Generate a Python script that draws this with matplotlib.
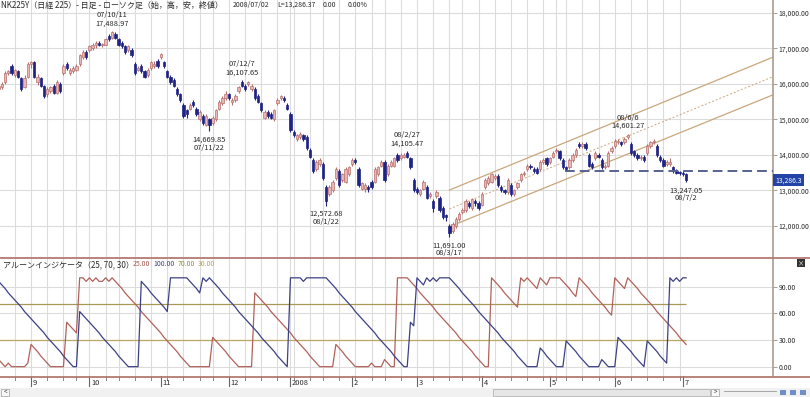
import numpy as np
import pandas as pd
from matplotlib import pyplot as plt
from matplotlib.lines import Line2D
from matplotlib.patches import Rectangle
from matplotlib.ticker import FuncFormatter

plt.rcParams['font.family'] = ['Noto Sans CJK JP', 'DejaVu Sans']

W, H = 810, 397  # output size, pixels

# ---- data: Nikkei 225 daily candles, 2007/08/20 - 2008/07/02 ----
market_holidays = ['2007-09-17', '2007-09-24', '2007-10-08', '2007-11-23',
                   '2007-12-24', '2007-12-31', '2008-01-01', '2008-01-02',
                   '2008-01-03', '2008-01-14', '2008-02-11', '2008-03-20',
                   '2008-04-29', '2008-05-05', '2008-05-06']

opens = [
    15850, 15900, 16050, 16300, 16500, 16250, 16350, 16150, 15900, 16200,
    16550, 16600, 16050, 16150, 15950, 15700, 15800, 15950, 15750, 16000,
    16300, 16550, 16300, 16350, 16400, 16550, 16750, 16900, 16950, 17000,
    17080, 17150, 17080, 17100, 17350, 17300, 17400, 17250, 17150, 17050,
    16950, 16950, 16550, 16400, 16500, 16350, 16250, 16450, 16500, 16650,
    16750, 16600, 16350, 16200, 16100, 15850, 15700, 15400, 15250, 15300,
    15500, 15300, 15000, 15100, 14850, 15000, 14900, 15000, 15300, 15450,
    15600, 15700, 15500, 15550, 15800, 16050, 15950, 16000, 15850, 15850,
    15650, 15450, 15050, 15200, 15150, 15000, 15450, 15600, 15600, 15400,
    15150, 14650, 14450, 14500, 14550, 14500, 14150, 13850, 13600, 13750,
    13750, 13100, 12900, 13000, 13350, 13550, 13300, 13250, 13450, 13750,
    13850, 13600, 13050, 13050, 13100, 13250, 13250, 13450, 13700, 13800,
    13450, 13700, 13700, 14000, 13900, 13950, 14050, 13900, 13300, 13050,
    12900, 13050, 13100, 12850, 12700, 12850, 12800, 12500, 12300, 12000,
    11850, 12000, 12200, 12400, 12450, 12650, 12500, 12700, 12650, 12600,
    13100, 13200, 13250, 13350, 13400, 13100, 13000, 12950, 13150, 12900,
    13100, 13300, 13450, 13600, 13700, 13600, 13600, 13600, 13800, 13900,
    13800, 13950, 14100, 14100, 13850, 13650, 13650, 13850, 14000, 14300,
    14250, 14300, 14000, 13750, 13900, 14000, 13850, 13650, 13700, 14100,
    14250, 14350, 14350, 14350, 14500, 14300, 14100, 14000, 13900, 13950,
    14050, 14250, 14350, 14250, 13950, 13850, 13750, 13750, 13650, 13550,
    13500, 13500, 13450,
]
highs = [
    16000, 16050, 16350, 16400, 16550, 16420, 16400, 16200, 16250, 16600,
    16650, 16650, 16280, 16200, 15980, 15900, 15950, 16000, 16100, 16050,
    16550, 16600, 16450, 16500, 16550, 16850, 16950, 16950, 17100, 17150,
    17200, 17200, 17150, 17300, 17400, 17488.97, 17450, 17300, 17200, 17100,
    17100, 17000, 16600, 16500, 16550, 16400, 16450, 16650, 16650, 16700,
    16870, 16650, 16400, 16250, 16150, 15900, 15750, 15450, 15300, 15450,
    15550, 15350, 15250, 15150, 15150, 15050, 15100, 15300, 15550, 15650,
    15800, 15750, 15600, 15700, 15950, 16107.65, 16000, 16080, 16000, 15900,
    15700, 15500, 15250, 15250, 15200, 15300, 15600, 15680, 15650, 15450,
    15200, 14700, 14600, 14650, 14600, 14550, 14200, 13900, 13850, 13900,
    13800, 13150, 13150, 13300, 13650, 13600, 13500, 13650, 13700, 13900,
    13900, 13650, 13250, 13200, 13150, 13300, 13650, 13700, 13850, 13850,
    13750, 13850, 13950, 14050, 14050, 14050, 14105.47, 13950, 13350, 13100,
    13050, 13300, 13150, 12950, 12750, 13000, 12850, 12550, 12350, 12050,
    12100, 12250, 12400, 12500, 12750, 12700, 12800, 12750, 12700, 12950,
    13350, 13400, 13500, 13450, 13450, 13150, 13050, 13350, 13200, 13050,
    13250, 13500, 13550, 13750, 13750, 13650, 13650, 13850, 13900, 13950,
    13950, 14100, 14200, 14150, 13900, 13700, 13900, 14050, 14200, 14350,
    14350, 14350, 14050, 13800, 14100, 14050, 13900, 13750, 14100, 14250,
    14450, 14450, 14400, 14500, 14601.27, 14350, 14150, 14050, 14000, 14000,
    14300, 14400, 14450, 14300, 14000, 13900, 13850, 13900, 13700, 13600,
    13550, 13550, 13480,
]
lows = [
    15800, 15850, 16000, 16250, 16250, 16200, 16150, 15800, 15880, 16150,
    16450, 16150, 15980, 15900, 15600, 15620, 15750, 15700, 15720, 15750,
    16250, 16400, 16250, 16300, 16350, 16500, 16700, 16700, 16900, 16950,
    17020, 17050, 17030, 17080, 17200, 17250, 17250, 17050, 17000, 16850,
    16900, 16750, 16250, 16350, 16300, 16150, 16200, 16400, 16450, 16450,
    16700, 16450, 16150, 16000, 15900, 15650, 15500, 15050, 15050, 15250,
    15350, 15100, 14950, 14850, 14800, 14669.85, 14850, 14950, 15250, 15400,
    15550, 15550, 15400, 15500, 15750, 15900, 15800, 15950, 15800, 15550,
    15450, 15200, 15000, 15050, 15000, 14950, 15400, 15550, 15500, 15250,
    14650, 14500, 14400, 14450, 14400, 14150, 13900, 13500, 13550, 13700,
    13300, 12572.68, 12850, 12950, 13300, 13100, 13250, 13200, 13400, 13700,
    13750, 13100, 13000, 12950, 12950, 13050, 13200, 13400, 13650, 13250,
    13400, 13650, 13650, 13800, 13850, 13900, 13900, 13600, 12950, 12900,
    12850, 13000, 12750, 12800, 12400, 12800, 12400, 12200, 12150, 11691.00,
    11800, 11950, 12150, 12350, 12400, 12500, 12450, 12550, 12450, 12550,
    13050, 13150, 13200, 13300, 13100, 12950, 12900, 12900, 12850, 12850,
    13050, 13250, 13400, 13550, 13600, 13500, 13450, 13550, 13750, 13700,
    13750, 13900, 14050, 13850, 13600, 13550, 13600, 13800, 13950, 14200,
    14200, 14150, 13650, 13600, 13850, 13900, 13600, 13600, 13650, 14050,
    14200, 14300, 14250, 14300, 14450, 14000, 13950, 13850, 13850, 13800,
    14000, 14200, 14300, 13950, 13800, 13650, 13700, 13700, 13500, 13450,
    13430, 13400, 13247.05,
]
closes = [
    15950, 16000, 16300, 16350, 16300, 16380, 16200, 15850, 16150, 16550,
    16600, 16200, 16200, 15950, 15650, 15850, 15900, 15750, 16050, 15800,
    16500, 16450, 16400, 16450, 16500, 16800, 16900, 16750, 17050, 17100,
    17150, 17100, 17120, 17250, 17250, 17450, 17300, 17100, 17050, 16900,
    17050, 16800, 16300, 16450, 16350, 16200, 16400, 16600, 16550, 16500,
    16850, 16500, 16200, 16050, 15950, 15700, 15550, 15100, 15150, 15400,
    15400, 15150, 15200, 14900, 15100, 14850, 15050, 15250, 15500, 15600,
    15700, 15600, 15550, 15650, 15900, 15950, 15850, 16050, 15950, 15600,
    15500, 15250, 15200, 15100, 15050, 15250, 15550, 15650, 15550, 15300,
    14700, 14550, 14550, 14600, 14450, 14200, 13950, 13550, 13800, 13850,
    13350, 12700, 13100, 13250, 13600, 13150, 13450, 13600, 13650, 13850,
    13800, 13150, 13200, 13150, 13050, 13100, 13600, 13650, 13800, 13300,
    13700, 13800, 13900, 13850, 14000, 14000, 13950, 13650, 13000, 12950,
    13000, 13250, 12800, 12900, 12500, 12950, 12450, 12250, 12250, 11800,
    12050, 12200, 12350, 12450, 12700, 12550, 12750, 12650, 12500, 12900,
    13300, 13350, 13450, 13400, 13150, 13000, 12950, 13300, 12900, 13000,
    13200, 13450, 13500, 13700, 13650, 13550, 13500, 13800, 13850, 13750,
    13900, 14050, 14150, 13900, 13650, 13600, 13850, 14000, 14150, 14250,
    14300, 14200, 13700, 13650, 14050, 13950, 13650, 13700, 14050, 14200,
    14400, 14400, 14300, 14450, 14550, 14050, 14000, 13900, 13950, 13850,
    14250, 14350, 14400, 14000, 13850, 13700, 13800, 13800, 13550, 13500,
    13480, 13450, 13286.37,
]

# Aroon indicator (25, 70, 30) as drawn in the lower panel
aroon_up = [
    8, 4, 0, 4, 0, 0, 0, 0, 0, 4,
    25, 21, 17, 12, 8, 4, 0, 0, 0, 0,
    0, 50, 46, 42, 38, 100, 100, 96, 100, 96,
    100, 96, 96, 100, 96, 100, 96, 92, 88, 83,
    79, 75, 71, 67, 62, 58, 54, 50, 46, 42,
    38, 33, 29, 25, 21, 17, 12, 8, 4, 0,
    0, 0, 0, 0, 0, 0, 33, 29, 25, 21,
    17, 12, 8, 4, 0, 0, 0, 0, 0, 83,
    79, 75, 71, 67, 62, 58, 54, 50, 46, 42,
    38, 33, 29, 25, 21, 17, 12, 8, 4, 0,
    0, 0, 0, 0, 25, 21, 17, 12, 8, 4,
    0, 0, 0, 0, 0, 4, 0, 0, 0, 8,
    4, 0, 0, 100, 100, 100, 100, 96, 92, 88,
    83, 79, 75, 71, 67, 62, 58, 54, 50, 46,
    42, 38, 33, 29, 25, 21, 17, 12, 8, 4,
    0, 0, 100, 96, 92, 88, 83, 79, 75, 71,
    67, 100, 96, 100, 96, 92, 88, 100, 96, 92,
    100, 100, 100, 100, 96, 92, 88, 83, 79, 100,
    96, 92, 88, 83, 79, 75, 71, 67, 62, 58,
    100, 96, 92, 88, 100, 96, 92, 88, 83, 79,
    75, 71, 67, 62, 58, 54, 50, 46, 42, 38,
    33, 29, 25,
]
aroon_down = [
    96, 92, 88, 83, 79, 75, 71, 67, 62, 58,
    54, 50, 46, 42, 38, 33, 29, 25, 21, 17,
    12, 8, 4, 0, 0, 62, 58, 54, 50, 46,
    42, 38, 33, 29, 25, 21, 17, 12, 8, 4,
    0, 0, 0, 0, 96, 92, 88, 83, 79, 75,
    71, 67, 62, 100, 100, 100, 100, 100, 100, 96,
    92, 88, 83, 100, 96, 100, 96, 92, 88, 83,
    79, 75, 71, 67, 62, 58, 54, 50, 46, 42,
    38, 33, 29, 25, 21, 17, 12, 8, 4, 0,
    100, 100, 100, 100, 96, 100, 100, 100, 100, 100,
    100, 100, 96, 92, 88, 83, 79, 75, 71, 67,
    62, 58, 54, 50, 46, 42, 38, 33, 29, 25,
    21, 17, 12, 8, 4, 0, 0, 50, 46, 100,
    96, 92, 100, 96, 100, 96, 100, 100, 100, 100,
    96, 92, 88, 83, 79, 75, 71, 67, 62, 58,
    54, 50, 46, 42, 38, 33, 29, 25, 21, 17,
    12, 8, 4, 0, 0, 0, 0, 21, 17, 12,
    8, 4, 0, 0, 0, 29, 25, 21, 17, 12,
    8, 4, 0, 0, 0, 0, 8, 4, 0, 0,
    0, 33, 29, 25, 21, 17, 12, 8, 4, 0,
    29, 25, 21, 17, 12, 8, 4, 100, 96, 100,
    96, 100, 100,
]

# marked highs / lows: (bar, price, date label, kind)
extremes = [
    (35, 17488.97, '07/10/11', 'high'),
    (65, 14669.85, '07/11/22', 'low'),
    (75, 16107.65, '07/12/7', 'high'),
    (101, 12572.68, '08/1/22', 'low'),
    (126, 14105.47, '08/2/27', 'high'),
    (139, 11691.00, '08/3/17', 'low'),
    (194, 14601.27, '08/6/6', 'high'),
    (212, 13247.05, '08/7/2', 'low'),
]

# trend channel (bar range, prices at both ends) and support line
channel_bars = [139, 238.8]
channel_upper = [13010, 16750]
channel_mid = [12480, 16200]
channel_lower = [11980, 15690]
support_level = 13560
support_from = 174.7

price_ticks = [12000, 13000, 14000, 15000, 16000, 17000, 18000]
aroon_ticks = [0, 30, 60, 90]
aroon_levels = [70, 30]

# ---- layout ----
dates = pd.bdate_range('2007-08-20', '2008-07-02')
dates = dates[~dates.isin(pd.to_datetime(market_holidays))]
idx = np.arange(len(dates))
for s in (opens, highs, lows, closes, aroon_up, aroon_down):
    assert len(s) == len(dates), len(s)

UP_FACE, UP_EDGE = '#e8b7b4', '#b8716d'
DN_FACE, DN_EDGE = '#1e2384', '#1e2384'
GRID = '#dcdcdc'
SEP = '#b27b6f'
AXIS = '#a89c90'
TXT = '#2a2a2a'
FS = 5.4       # annotations, month labels
FS_HEAD = 5.8  # japanese header / legend text
FS_NUM = 5.0   # numbers in the header / legend line
FS_TICK = 4.9  # right-hand tick labels

X0, DX = -1.4, 3.243  # pixel position of bar 0 and bar spacing
xlim = ((0 - X0) / DX, (773 - X0) / DX)


def box(x0, y0, x1, y1):
    return [x0 / W, 1 - y1 / H, (x1 - x0) / W, (y1 - y0) / H]


def fx(x):
    return x / W


def fy(y):
    return 1 - y / H


fig = plt.figure(figsize=(W / 100, H / 100), dpi=100)
ax = fig.add_axes(box(0, 0, 773, 257))
ax2 = fig.add_axes(box(0, 258, 773, 376))

iso = dates.isocalendar().week.values
week_starts = idx[np.r_[True, iso[1:] != iso[:-1]]]
months = dates.month.values
month_starts = idx[1:][months[1:] != months[:-1]]

for a in (ax, ax2):
    a.set_xlim(xlim)
    for w in week_starts:
        a.axvline(w, color=GRID, lw=0.8, zorder=0)
    for s in a.spines.values():
        s.set_visible(False)
    a.spines['right'].set_visible(True)
    a.spines['right'].set_color(AXIS)
    a.spines['right'].set_linewidth(1.2)
    a.yaxis.tick_right()
    a.tick_params(axis='x', bottom=False, labelbottom=False)
    a.tick_params(axis='y', length=3, width=0.7, color=AXIS, pad=0.8,
                  labelsize=FS_TICK, labelcolor=TXT)

# ---- price panel ----
ax.set_ylim(11128, 18357)
ax.set_yticks(price_ticks)
ax.yaxis.set_major_formatter(FuncFormatter(lambda v, _: f'{v:,.2f}'))
for p in price_ticks:
    ax.axhline(p, color=GRID, lw=0.8, zorder=0)

o, h, l, c = (np.array(v, dtype=float) for v in (opens, highs, lows, closes))
up = c >= o
for mask, face, edge in ((up, UP_FACE, UP_EDGE), (~up, DN_FACE, DN_EDGE)):
    ax.vlines(idx[mask], l[mask], h[mask], color=edge, lw=0.8, zorder=2)
    ax.bar(idx[mask], np.maximum(np.abs(c - o)[mask], 25),
           bottom=np.minimum(o, c)[mask], width=0.72, color=face,
           edgecolor=edge, lw=0.5, zorder=3)

CH = '#c9a77c'
ax.plot(channel_bars, channel_upper, color=CH, lw=0.9, zorder=1)
ax.plot(channel_bars, channel_lower, color=CH, lw=0.9, zorder=1)
ax.plot(channel_bars, channel_mid, color=CH, lw=0.7, ls=(0, (2, 2)), zorder=1)
ax.hlines(support_level, support_from, xlim[1], color='#56638f', lw=1.4,
          linestyles=(0, (5, 2.6)), zorder=4)

for i, p, d, kind in extremes:
    offs = (7.5, 16) if kind == 'high' else (-8.5, -16.5)
    ax.annotate(f'{p:,.2f}', (i, p), xytext=(0, offs[0]), textcoords='offset pixels',
                ha='center', va='center', fontsize=FS, color=TXT)
    ax.annotate(d, (i, p), xytext=(0, offs[1]), textcoords='offset pixels',
                ha='center', va='center', fontsize=FS, color=TXT)

# last price tag on the axis (truncated like the source display)
ax.text(1.003, closes[-1], f'{closes[-1]:,.2f}'[:-1],
        transform=ax.get_yaxis_transform(), ha='left', va='center',
        fontsize=FS_TICK, color='white', clip_on=False,
        bbox=dict(boxstyle='square,pad=0.3', fc='#2344a6', ec='none'))

# ---- aroon panel ----
ax2.set_ylim(-10.5, 122.3)
ax2.set_yticks(aroon_ticks)
ax2.yaxis.set_major_formatter(FuncFormatter(lambda v, _: f'{v:.2f}'))
for v in aroon_ticks:
    ax2.axhline(v, color=GRID, lw=0.8, zorder=0)
ax2.hlines(aroon_levels[0], idx[0], idx[-1], color='#a89858', lw=0.9, zorder=1)
ax2.hlines(aroon_levels[1], idx[0], idx[-1], color='#b9a963', lw=0.9, zorder=1)
ax2.plot(idx, aroon_up, color='#b0625a', lw=0.9, zorder=2)
ax2.plot(idx, aroon_down, color='#3d4184', lw=0.9, zorder=3)

# month labels and weekly ticks under the lower panel
tr = ax2.get_xaxis_transform()
for w in week_starts:
    ax2.plot([w, w], [0, -0.03], transform=tr, color='#888888', lw=0.7, clip_on=False)
for m in month_starts:
    ax2.plot([m, m], [0, -0.085], transform=tr, color='#666666', lw=0.8, clip_on=False)
    lab = str(dates[m].year) if dates[m].month == 1 else str(dates[m].month)
    ax2.text(m + 0.5, -0.06, lab, transform=tr, ha='left', va='center',
             fontsize=FS, color=TXT, clip_on=False)

# separators
for y in (257.5, 376.5):
    fig.add_artist(Line2D([0, 1], [fy(y)] * 2, color=SEP, lw=1.3))

# header texts
fig.text(fx(1), fy(5), 'NK225Y（日経 225）- 日足 - ローソク足（始，高，安，終値）',
         fontsize=FS_HEAD, color=TXT, va='center', ha='left')
for x, s in ((233, '2008/07/02'), (277, 'L=13,286.37'), (323, '0.00'), (348, '0.00%')):
    fig.text(fx(x), fy(5), s, fontsize=FS_NUM, color=TXT, va='center', ha='left')

fig.text(fx(3), fy(264.5), 'アルーンインジケータ（25, 70, 30）',
         fontsize=FS_HEAD, color=TXT, va='center', ha='left')
for x, s, col in ((133, '25.00', '#a8564e'), (153, '100.00', '#3d4184'),
                  (178, '70.00', '#8f8f3a'), (198, '30.00', '#b5a55a')):
    fig.text(fx(x), fy(264.5), s, fontsize=FS_NUM, color=col, va='center', ha='left')

# close box of the lower panel
fig.add_artist(Rectangle((fx(797), fy(267)), 8 / W, 8 / H, fc='#333333', ec='none'))
fig.text(fx(801), fy(263), '×', fontsize=4.5, color='white', ha='center', va='center')

# scroll bar strip
fig.add_artist(Rectangle((0, 0), 1, 9 / H, fc='#f1f1f1', ec='none'))
fig.add_artist(Rectangle((fx(1), fy(396)), 8 / W, 7 / H, fc='#f8f8f8', ec='#a0a0a0', lw=0.5))
fig.text(fx(5), fy(392.5), '<', fontsize=4.5, color='#333333', ha='center', va='center')
fig.add_artist(Rectangle((fx(493), fy(396)), 217 / W, 7 / H, fc='#e6e6e6', ec='#a8a8a8', lw=0.5))
fig.add_artist(Rectangle((fx(711), fy(396)), 8 / W, 7 / H, fc='#f8f8f8', ec='#a0a0a0', lw=0.5))
fig.text(fx(715), fy(392.5), '>', fontsize=4.5, color='#333333', ha='center', va='center')
fig.add_artist(Line2D([fx(724), fx(776)], [fy(391)] * 2, color='#9a9a9a', lw=0.6))
for x in (783, 793, 803):
    fig.add_artist(Rectangle((fx(x - 3), fy(395)), 6 / W, 5 / H, fc='#6f8fc8', ec='none'))

fig.savefig('out.png', dpi=100)
